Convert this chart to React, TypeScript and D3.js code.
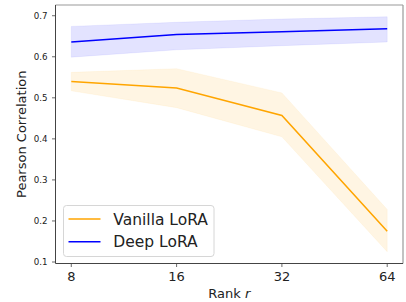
import React, { useEffect, useRef } from 'react';
import * as d3 from 'd3';

const ranks = [8, 16, 32, 64];
const rankLabels = ['8', '16', '32', '64'];

const vanillaMean = [0.540, 0.524, 0.457, 0.175];
const vanillaLow = [0.517, 0.476, 0.405, 0.125];
const vanillaHigh = [0.562, 0.571, 0.512, 0.228];

const deepMean = [0.636, 0.654, 0.661, 0.668];
const deepLow = [0.599, 0.617, 0.627, 0.636];
const deepHigh = [0.674, 0.684, 0.692, 0.6975];

const yTicks = [0.1, 0.2, 0.3, 0.4, 0.5, 0.6, 0.7];

const W = 406;
const H = 302;
const FONT = 'DejaVu Sans, sans-serif';

const App: React.FC = () => {
  const svgRef = useRef<SVGSVGElement>(null);

  useEffect(() => {
    document.body.style.margin = '0';
    if (!svgRef.current) return;
    const svg = d3.select(svgRef.current);
    svg.selectAll('*').remove();

    const left = 55.5, right = 403, top = 5, bottom = 263.5;

    // matplotlib-style 5% margins
    const lx0 = Math.log2(8), lx1 = Math.log2(64);
    const mx = (lx1 - lx0) * 0.05;
    const x = d3.scaleLog().base(2)
      .domain([Math.pow(2, lx0 - mx), Math.pow(2, lx1 + mx)])
      .range([left, right]);

    const allVals = [...vanillaLow, ...vanillaHigh, ...deepLow, ...deepHigh];
    const yMin = d3.min(allVals)!, yMax = d3.max(allVals)!;
    const my = (yMax - yMin) * 0.05;
    const y = d3.scaleLinear().domain([yMin - my, yMax + my]).range([bottom, top]);

    const series = [
      { name: 'Vanilla LoRA', color: '#ffa500', mean: vanillaMean, low: vanillaLow, high: vanillaHigh },
      { name: 'Deep LoRA', color: '#0000ff', mean: deepMean, low: deepLow, high: deepHigh },
    ];

    const line = d3.line<number>()
      .x((_, i) => x(ranks[i]))
      .y(d => y(d));

    const plot = svg.append('g');
    series.forEach(s => {
      const a = d3.area<number>()
        .x((_, i) => x(ranks[i]))
        .y0((_, i) => y(s.low[i]))
        .y1((_, i) => y(s.high[i]));
      plot.append('path')
        .attr('d', a(s.mean) || '')
        .attr('fill', s.color)
        .attr('fill-opacity', 0.11)
        .attr('stroke', s.color)
        .attr('stroke-opacity', 0.06)
        .attr('stroke-width', 1);
    });
    series.forEach(s => {
      plot.append('path')
        .attr('d', line(s.mean) || '')
        .attr('fill', 'none')
        .attr('stroke', s.color)
        .attr('stroke-width', 1.5);
    });

    // spines
    svg.append('line').attr('x1', left).attr('x2', right).attr('y1', top).attr('y2', top)
      .attr('stroke', '#999').attr('stroke-width', 1.2);
    svg.append('line').attr('x1', right).attr('x2', right).attr('y1', top).attr('y2', bottom)
      .attr('stroke', '#999').attr('stroke-width', 1.2);
    svg.append('line').attr('x1', left).attr('x2', left).attr('y1', top).attr('y2', bottom)
      .attr('stroke', '#444').attr('stroke-width', 1);
    svg.append('line').attr('x1', left).attr('x2', right).attr('y1', bottom).attr('y2', bottom)
      .attr('stroke', '#444').attr('stroke-width', 1);

    // y ticks
    const yt = svg.append('g');
    yTicks.forEach(t => {
      yt.append('line').attr('x1', left - 3.5).attr('x2', left).attr('y1', y(t)).attr('y2', y(t))
        .attr('stroke', '#444').attr('stroke-width', 0.8);
      yt.append('text').attr('x', left - 8).attr('y', y(t)).attr('dy', '0.35em')
        .attr('text-anchor', 'end').attr('font-family', FONT).attr('font-size', 8.7)
        .attr('fill', '#222').text(t.toFixed(1));
    });

    // x ticks
    const xt = svg.append('g');
    ranks.forEach((r, i) => {
      xt.append('line').attr('x1', x(r)).attr('x2', x(r)).attr('y1', bottom).attr('y2', bottom + 3.5)
        .attr('stroke', '#444').attr('stroke-width', 0.8);
      xt.append('text').attr('x', x(r)).attr('y', 281)
        .attr('text-anchor', 'middle').attr('font-family', FONT).attr('font-size', 13)
        .attr('fill', '#222').text(rankLabels[i]);
    });

    // axis labels
    const xl = svg.append('text').attr('x', (left + right) / 2).attr('y', 298)
      .attr('text-anchor', 'middle').attr('font-family', FONT).attr('font-size', 13).attr('fill', '#222');
    xl.append('tspan').text('Rank ');
    xl.append('tspan').attr('font-style', 'italic').text('r');

    svg.append('text')
      .attr('transform', `translate(25.5,${(top + bottom) / 2}) rotate(-90)`)
      .attr('text-anchor', 'middle').attr('font-family', FONT).attr('font-size', 13)
      .attr('fill', '#222').text('Pearson Correlation');

    // legend
    const lg = svg.append('g');
    lg.append('rect').attr('x', 63.5).attr('y', 205.5).attr('width', 150.5).attr('height', 51)
      .attr('rx', 3).attr('fill', '#fff').attr('fill-opacity', 0.8)
      .attr('stroke', '#d6d6d6').attr('stroke-width', 1);
    series.forEach((s, i) => {
      const cy = 219 + i * 22.7;
      lg.append('line').attr('x1', 68.5).attr('x2', 100.5).attr('y1', cy).attr('y2', cy)
        .attr('stroke', s.color).attr('stroke-width', 1.5);
      lg.append('text').attr('x', 113.3).attr('y', cy).attr('dy', '0.36em')
        .attr('font-family', FONT).attr('font-size', 15.5).attr('fill', '#222').text(s.name);
    });
  }, []);

  return <svg ref={svgRef} width={W} height={H} style={{ display: 'block', background: '#fff' }} />;
};

export default App;
